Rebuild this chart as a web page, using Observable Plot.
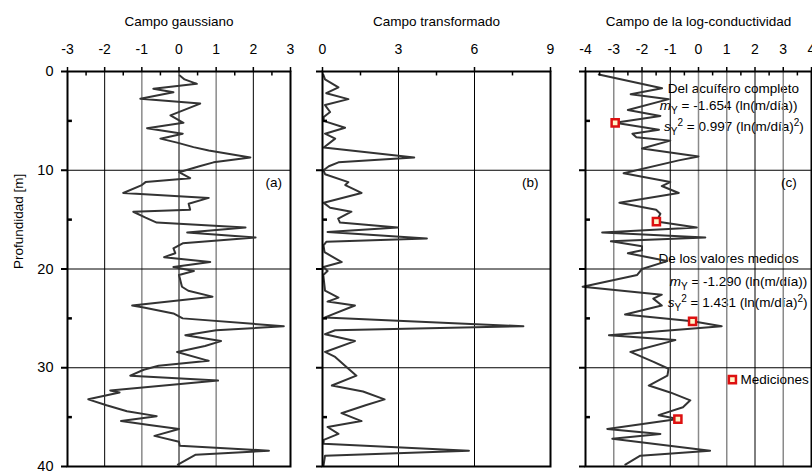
<!DOCTYPE html>
<html><head><meta charset="utf-8">
<script src="https://cdn.jsdelivr.net/npm/d3@7"></script>
<script src="https://cdn.jsdelivr.net/npm/@observablehq/plot@0.6"></script>
<style>
body{margin:0;background:#fff}
#wrap{position:relative;width:812px;height:471px;overflow:hidden;background:#fff}
#wrap svg{position:absolute;top:0}
</style>
</head><body><div id="wrap"></div>
<script>
// ---- data ----
const depthA = [0.4,0.8,1.25,1.75,2.1,2.77,3.25,4.45,5.2,5.74,6.3,6.8,7.2,7.66,8.0,8.7,9.2,9.6,10.2,10.8,11.2,11.5,12.3,12.8,13.4,14.0,14.2,14.8,15.3,15.8,16.3,16.8,17.4,17.9,18.4,18.8,19.3,19.8,20.2,20.6,21.8,22.2,22.8,23.7,23.9,24.5,25.0,25.8,26.2,26.7,27.3,27.8,28.4,29.3,29.8,30.2,30.8,31.3,32.3,32.5,33.2,33.8,34.4,34.9,35.4,35.8,36.2,36.9,37.5,37.9,38.4,38.8,39.8];
const gaussA = [0.02,0.15,0.48,-0.69,-0.15,-1.04,0.57,-0.23,0.12,-0.86,0.1,-0.5,-0.05,0.39,0.8,1.92,0.93,0.55,0.0,0.3,-0.9,-1.0,-1.5,0.8,0.26,0.3,-1.23,-0.9,-0.6,1.79,0.22,2.06,0.1,-0.15,-0.1,-0.4,0.84,-0.15,0.4,0.0,0.08,0.25,0.9,-1.26,-0.95,-0.15,0.1,2.82,1.0,0.17,1.13,0.7,-0.05,0.8,-0.55,-0.95,-1.31,1.05,-1.85,-1.6,-2.44,-1.95,-1.4,-0.6,-1.56,-0.8,0.0,-0.66,0.0,0.02,2.42,0.45,-0.03];

const depthB = [0.3,0.8,1.6,2.2,2.8,3.4,4.1,4.6,5.0,5.7,6.3,6.8,7.7,8.7,9.2,9.6,10.0,10.4,11.2,11.5,12.3,13.3,13.8,14.2,14.9,15.3,15.8,16.25,16.9,17.25,17.6,18.3,19.3,19.8,20.2,20.6,22.2,22.9,23.3,23.7,24.9,25.8,26.2,26.6,27.3,28.4,28.9,29.8,30.8,31.8,32.4,33.2,33.8,34.6,35.4,36.0,36.7,37.3,37.7,38.4,38.9,39.9];
const transB = [0.03,0.1,0.63,0.15,1.02,0.1,0.3,0.05,0.04,0.89,0.1,0.5,0.05,3.62,0.63,0.25,0.04,0.1,1.02,0.9,1.54,0.05,0.3,1.14,0.62,0.69,2.97,0.2,4.12,0.15,0.04,0.08,0.76,0.04,0.2,0.03,0.1,0.63,0.2,1.28,0.1,7.93,0.5,0.1,1.28,0.1,0.5,0.89,1.34,0.37,1.6,2.45,1.7,0.75,1.54,0.2,0.63,0.05,0.04,5.78,0.1,0.04];

const depthC = [0.3,1.7,2.3,2.8,3.9,4.5,5.2,5.9,6.3,6.65,7.0,7.8,8.6,9.0,10.3,11.2,11.6,12.3,13.3,14.0,14.4,15.2,15.8,16.3,16.8,17.2,17.7,18.1,18.4,19.2,20.0,20.6,21.8,22.6,23.0,23.7,24.6,25.3,25.8,26.7,27.2,28.4,29.4,30.1,30.8,31.8,32.5,33.3,34.0,34.8,35.2,36.2,36.7,37.2,38.4,38.9,39.8];
const logC = [-3.53,-1.29,-2.4,-1.05,-2.5,-1.35,-2.95,-1.4,-2.34,-2.2,-1.0,-2.0,0.0,-0.7,-2.65,-1.0,-1.3,-0.7,-2.8,-1.5,-1.35,-1.49,-0.06,-3.41,0.24,-3.1,-2.0,-2.0,-2.5,-1.11,-2.0,-2.17,-4.1,-1.3,-1.6,-1.3,-2.6,-0.21,0.82,-3.17,-0.82,-2.41,-1.59,-1.06,-1.1,-1.76,-1.0,-0.29,-0.55,-1.41,-0.73,-3.23,-1.35,-3.05,0.41,-2.06,-2.59];

const measDepth = [5.2,15.2,25.3,35.2];
const measLogK = [-2.95,-1.49,-0.21,-0.73];

const ticksA = [-3,-2,-1,0,1,2,3];
const minorA = [-2.5,-1.5,-0.5,0.5,1.5,2.5];
const ticksB = [0,3,6,9];
const minorB = [1.5,4.5,7.5];
const ticksC = [-4,-3,-2,-1,0,1,2,3,4];
const minorC = [-3.5,-2.5,-1.5,-0.5,0.5,1.5,2.5,3.5];
const depthTicks = [0,10,20,30,40];
const depthMinor = [5,15,25,35];
const depthGrid = [10,20,30];

// ---- layout ----
const H = 471, MT = 71, MB = 5;
const FONT = "'Liberation Sans', Arial, sans-serif";
const wrap = document.getElementById("wrap");

function makePanel(cfg) {
  const rows = cfg.depth.map((d, i) => ({d, v: cfg.vals[i]}));
  const [x0, x1] = cfg.domain;
  const marks = [
    Plot.ruleX(cfg.gridGray, {stroke: "#8a8a8a", strokeWidth: 1.5}),
    Plot.ruleX(cfg.gridBlack, {stroke: "#000", strokeWidth: 1}),
    Plot.ruleY(depthGrid, {stroke: "#000", strokeWidth: 1}),
    Plot.line(rows, {x: "v", y: "d", stroke: "#333", strokeWidth: 2}),
    Plot.ruleX(cfg.minor, {x: d => d, y1: 0, y2: 0.45, stroke: "#000", strokeWidth: 1.5}),
    Plot.ruleY(depthMinor, {y: d => d, x1: x0, x2: x0 + (x1 - x0) * 0.022, stroke: "#000", strokeWidth: 2.5}),
    Plot.axisX({anchor: "top", ticks: cfg.ticks, tickSize: 5, tickPadding: 13, fontSize: 14, label: null, tickFormat: d => String(d), strokeWidth: 1.5}),
    Plot.axisY({anchor: "left", ticks: depthTicks, tickSize: 6, tickPadding: 8, fontSize: 14.5, label: null, tickFormat: cfg.yLabels ? (d => String(d)) : (() => ""), strokeWidth: 2}),
    Plot.frame({stroke: "#000", strokeWidth: 2}),
    Plot.text([cfg.title], {frameAnchor: "top", dy: -55, fontSize: 13.5}),
    Plot.text(cfg.tag, {x: d => d.x, y: d => d.y, text: d => d.t, fontSize: 13.5}),
    ...(cfg.extra || [])
  ];
  const chart = Plot.plot({
    width: cfg.width, height: H,
    marginTop: MT, marginBottom: MB, marginLeft: cfg.ml, marginRight: cfg.mr,
    x: {domain: cfg.domain},
    y: {domain: [0, 40], reverse: true},
    style: {fontFamily: FONT, background: "transparent", overflow: "visible", color: "#000"},
    marks
  });
  chart.style.left = cfg.left + "px";
  wrap.appendChild(chart);
  return chart;
}

makePanel({
  left: 0, width: 300, ml: 67, mr: 10, domain: [-3, 3],
  depth: depthA, vals: gaussA,
  ticks: ticksA, minor: minorA, gridBlack: [-2, 0, 2], gridGray: [-1, 1],
  yLabels: true, title: "Campo gaussiano",
  tag: [{x: 2.55, y: 11.3, t: "(a)"}],
  extra: [Plot.text(["Profundidad [m]"], {frameAnchor: "left", rotate: -90, dx: -49, fontSize: 13.5})]
});

makePanel({
  left: 300, width: 260, ml: 22, mr: 10, domain: [0, 9],
  depth: depthB, vals: transB,
  ticks: ticksB, minor: minorB, gridBlack: [3, 6], gridGray: [],
  yLabels: false, title: "Campo transformado",
  tag: [{x: 8.2, y: 11.3, t: "(b)"}]
});

const meas = measDepth.map((d, i) => ({d, v: measLogK[i]}));
const legendItem = [{v: 1.2, d: 31.2, t: "Mediciones"}];
const chartC = makePanel({
  left: 560, width: 252, ml: 25, mr: 1, domain: [-4, 4],
  depth: depthC, vals: logC,
  ticks: ticksC, minor: minorC, gridBlack: [-2, -1, 2], gridGray: [-3, 0, 1, 3],
  yLabels: false, title: "Campo de la log-conductividad",
  tag: [{x: 3.2, y: 11.3, t: "(c)"}],
  extra: [
    Plot.dot(meas, {x: "v", y: "d", symbol: "square", r: 4, fill: "#fff4c8", stroke: "#dd1010", strokeWidth: 2.5}),
    Plot.dot(legendItem, {x: "v", y: "d", symbol: "square", r: 4, fill: "#fff4c8", stroke: "#dd1010", strokeWidth: 2.5}),
    Plot.text(legendItem, {x: "v", y: "d", text: "t", dx: 8, textAnchor: "start", fontSize: 13.5})
  ]
});

// rich annotations with sub/superscripts, drawn beneath the grid like the reference
const sx = chartC.scale("x"), sy = chartC.scale("y");
const firstMark = chartC.querySelector("g");
function rich(xv, yv, parts) {
  const node = document.createElementNS("http://www.w3.org/2000/svg", "text");
  chartC.insertBefore(node, firstMark);
  const t = d3.select(node)
    .attr("x", sx.apply(xv)).attr("y", sy.apply(yv) + 4.7)
    .attr("text-anchor", "start")
    .attr("font-family", FONT).attr("font-size", 13.5).attr("fill", "#000");
  let prev = 0;
  for (const p of parts) {
    const shift = p.sub ? 4 : p.sup ? -5 : 0;
    const ts = t.append("tspan").text(p.t).attr("dy", shift - prev);
    if (p.sub || p.sup) ts.attr("font-size", 10);
    if (p.it) ts.attr("font-style", "italic");
    prev = shift;
  }
}
const noteAll = {head: "Del acuífero completo", mean: "-1.654", varc: "0.997"};
const noteMeas = {head: "De los valores medidos", mean: "-1.290", varc: "1.431"};
rich(-1.07, 1.75, [{t: noteAll.head}]);
rich(-1.35, 3.45, [{t: "m", it: true}, {t: "Y", sub: true}, {t: " = " + noteAll.mean + " (ln(m/día))"}]);
rich(-1.2, 5.57, [{t: "s", it: true}, {t: "Y", sub: true}, {t: "2", sup: true}, {t: " = " + noteAll.varc + " (ln(m/día)"}, {t: "2", sup: true}, {t: ")"}]);
rich(-1.4, 18.94, [{t: noteMeas.head}]);
rich(-1.0, 21.27, [{t: "m", it: true}, {t: "Y", sub: true}, {t: " = " + noteMeas.mean + " (ln(m/día))"}]);
rich(-1.07, 23.4, [{t: "s", it: true}, {t: "Y", sub: true}, {t: "2", sup: true}, {t: " = " + noteMeas.varc + " (ln(m/día)"}, {t: "2", sup: true}, {t: ")"}]);
</script></body></html>
